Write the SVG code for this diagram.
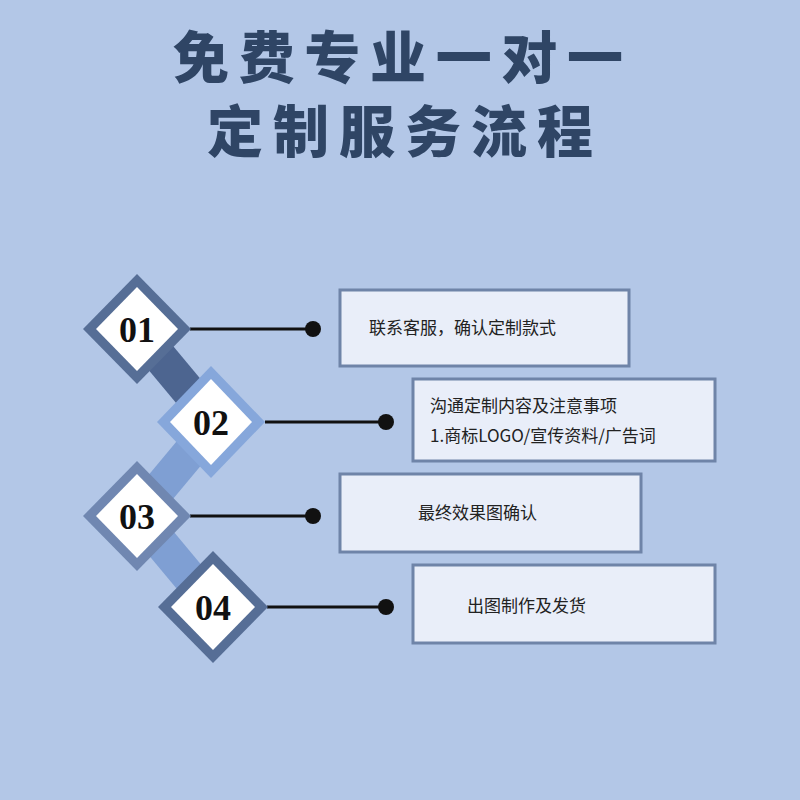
<svg xmlns="http://www.w3.org/2000/svg" width="800" height="800" viewBox="0 0 800 800">
<style>
.title{font-family:"Noto Sans CJK SC",sans-serif;font-weight:900;font-size:56px;fill:#2f4565;text-anchor:middle}
.inner{fill:#ffffff}
.num{font-family:"Liberation Serif",serif;font-weight:bold;font-size:36px;fill:#111;text-anchor:middle}
.box{fill:#e9eef9;stroke:#6f84a8;stroke-width:3}
.lbl{font-family:"Noto Sans CJK SC",sans-serif;font-size:17px;fill:#222}
.ln{stroke:#111;stroke-width:3}
</style>
<rect width="800" height="800" fill="#b3c7e7"/>
<text class="title" x="398" y="78" textLength="450">免费专业一对一</text>
<text class="title" x="400" y="152" textLength="386">定制服务流程</text>
<g id="connectors">
<line x1="150" y1="345" x2="200" y2="405" stroke="#4d6590" stroke-width="34"/>
<line x1="200" y1="440" x2="150" y2="500" stroke="#7f9fd3" stroke-width="34"/>
<line x1="150" y1="530" x2="200" y2="590" stroke="#7f9fd3" stroke-width="34"/>
<line class="ln" x1="190" y1="329" x2="313" y2="329"/><circle cx="313" cy="329" r="8" fill="#111"/>
<line class="ln" x1="265" y1="422" x2="386" y2="422"/><circle cx="386" cy="422" r="8" fill="#111"/>
<line class="ln" x1="190" y1="516" x2="313" y2="516"/><circle cx="313" cy="516" r="8" fill="#111"/>
<line class="ln" x1="267" y1="607" x2="386" y2="607"/><circle cx="386" cy="607" r="8" fill="#111"/>
</g>
<g id="n01"><polygon points="137,274 191,329 137,384 83,329" fill="#566e96"/><polygon class="inner" points="137,287 178,329 137,371 96,329"/><text class="num" x="137" y="342">01</text></g>
<g id="n02"><polygon points="211,366 265,422 211,478 157,422" fill="#86a7db"/><polygon class="inner" points="211,379 252,422 211,465 170,422"/><text class="num" x="211" y="435">02</text></g>
<g id="n03"><polygon points="137,461 191,516 137,571 83,516" fill="#7087b1"/><polygon class="inner" points="137,474 178,516 137,558 96,516"/><text class="num" x="137" y="529">03</text></g>
<g id="n04"><polygon points="213,551 268,607 213,663 158,607" fill="#566e96"/><polygon class="inner" points="213,564 255,607 213,650 171,607"/><text class="num" x="213" y="620">04</text></g>
<g id="b1"><rect class="box" x="340" y="290" width="289" height="76"/><text class="lbl" x="369" y="334">联系客服，确认定制款式</text></g>
<g id="b2"><rect class="box" x="413" y="379" width="302" height="82"/><text class="lbl" x="430" y="412">沟通定制内容及注意事项</text><text class="lbl" x="430" y="442">1.商标LOGO/宣传资料/广告词</text></g>
<g id="b3"><rect class="box" x="340" y="474" width="301" height="78"/><text class="lbl" x="418" y="519">最终效果图确认</text></g>
<g id="b4"><rect class="box" x="413" y="565" width="302" height="78"/><text class="lbl" x="467" y="612">出图制作及发货</text></g>
</svg>
